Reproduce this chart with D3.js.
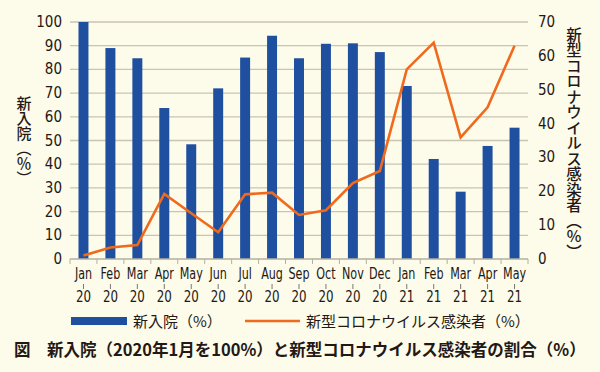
<!DOCTYPE html>
<html>
<head>
<meta charset="utf-8">
<script src="https://cdn.jsdelivr.net/npm/d3@7"></script>
<style>
  body { margin: 0; background: #fdfbea; }
  svg { display: block; }
  text { font-family: "Liberation Sans Narrow", "DejaVu Sans Condensed", "Noto Sans CJK JP", sans-serif; fill: #231815; }
  .jp { font-family: "Noto Sans CJK JP", sans-serif; }
</style>
</head>
<body>
<svg width="600" height="372"></svg>
<script>
var months = ["Jan", "Feb", "Mar", "Apr", "May", "Jun", "Jul", "Aug", "Sep", "Oct", "Nov", "Dec",
              "Jan", "Feb", "Mar", "Apr", "May"];
var years = ["20", "20", "20", "20", "20", "20", "20", "20", "20", "20", "20", "20",
             "21", "21", "21", "21", "21"];
var admissions = [100, 89, 84.7, 63.7, 48.4, 72, 85, 94.2, 84.7, 90.8, 91, 87.3, 73, 42.2, 28.4, 47.7, 55.4];
var infected = [1.0, 3.4, 4.1, 19.2, 13.5, 7.9, 19.1, 19.6, 13.0, 14.4, 22.4, 26.0, 56.0, 63.9, 35.9, 44.8, 63.0];
var leftTicks = d3.range(0, 101, 10);
var rightTicks = d3.range(0, 71, 10);

var svg = d3.select("svg");
var plotLeft = 70, plotRight = 528, plotTop = 22, plotBottom = 259;
var keys = months.map((m, i) => i);

var x = d3.scaleBand().domain(keys).range([plotLeft, plotRight]).paddingInner(0.63).paddingOuter(0.315);
var xb = d3.scaleBand().domain(keys).range([plotLeft, plotRight]);
var yL = d3.scaleLinear().domain([0, 100]).range([plotBottom, plotTop]);
var yR = d3.scaleLinear().domain([0, 70]).range([plotBottom, plotTop]);

// grid
svg.append("g")
  .selectAll("line")
  .data(leftTicks.slice(1)).enter()
  .append("line")
  .attr("x1", plotLeft).attr("x2", plotRight)
  .attr("y1", d => yL(d)).attr("y2", d => yL(d))
  .attr("stroke", "#c9c5b1").attr("stroke-width", 1.3);

// bars
svg.append("g")
  .selectAll("rect")
  .data(admissions).enter()
  .append("rect")
  .attr("x", (d, i) => x(i))
  .attr("width", x.bandwidth())
  .attr("y", d => yL(d))
  .attr("height", d => plotBottom - yL(d))
  .attr("fill", "#1f4f9f");

// baseline + tick marks
svg.append("line")
  .attr("x1", plotLeft).attr("x2", plotRight)
  .attr("y1", plotBottom).attr("y2", plotBottom)
  .attr("stroke", "#b4b0a0").attr("stroke-width", 1.3);

var boundaries = keys.map(i => xb(i)).concat([plotRight]);
svg.append("g")
  .selectAll("line")
  .data(boundaries).enter()
  .append("line")
  .attr("x1", d => d).attr("x2", d => d)
  .attr("y1", plotBottom).attr("y2", plotBottom + 5)
  .attr("stroke", "#b4b0a0").attr("stroke-width", 1);

// line
var line = d3.line()
  .x((d, i) => xb(i) + xb.bandwidth() / 2)
  .y(d => yR(d));
svg.append("path")
  .datum(infected)
  .attr("d", line)
  .attr("fill", "none")
  .attr("stroke", "#f06a1e")
  .attr("stroke-width", 2.6)
  .attr("stroke-linejoin", "miter");

// x labels (condensed)
var xl = svg.append("g").selectAll("g")
  .data(keys).enter()
  .append("g")
  .attr("transform", d => "translate(" + (xb(d) + xb.bandwidth() / 2) + ",0)");
xl.append("text").attr("y", 279).attr("text-anchor", "middle").attr("font-size", 15.5)
  .attr("transform", "scale(0.8,1)")
  .text(d => months[d]);
xl.append("line").attr("y1", 284).attr("y2", 289).attr("stroke", "#555").attr("stroke-width", 0.8);
xl.append("text").attr("y", 302).attr("text-anchor", "middle").attr("font-size", 15.5)
  .attr("transform", "scale(0.85,1)")
  .text(d => years[d]);

// left axis labels
svg.append("g")
  .selectAll("text")
  .data(leftTicks).enter()
  .append("text")
  .attr("x", 62).attr("y", d => yL(d) + 5)
  .attr("text-anchor", "end").attr("font-size", 15)
  .text(d => d);

// right axis labels
svg.append("g")
  .selectAll("text")
  .data(rightTicks).enter()
  .append("text")
  .attr("x", 538).attr("y", d => yR(d) + 5)
  .attr("text-anchor", "start").attr("font-size", 15)
  .text(d => d);

// axis titles (vertical)
svg.append("text").attr("class", "jp")
  .attr("x", 24).attr("y", 96)
  .attr("font-size", 15)
  .style("writing-mode", "vertical-rl")
  .style("font-weight", 500)
  .text("新入院（％）");

svg.append("text").attr("class", "jp")
  .attr("x", 574).attr("y", 27)
  .attr("font-size", 15.5)
  .style("writing-mode", "vertical-rl")
  .style("font-weight", 500)
  .text("新型コロナウイルス感染者（％）");

// legend
svg.append("rect").attr("x", 71).attr("y", 317).attr("width", 56).attr("height", 8).attr("fill", "#1f4f9f");
svg.append("text").attr("class", "jp").attr("x", 133).attr("y", 327).attr("font-size", 15).text("新入院（%）");
svg.append("line").attr("x1", 245).attr("x2", 300).attr("y1", 321).attr("y2", 321)
  .attr("stroke", "#f06a1e").attr("stroke-width", 2.6);
svg.append("text").attr("class", "jp").attr("x", 306).attr("y", 327).attr("font-size", 15).text("新型コロナウイルス感染者（%）");

// caption
svg.append("text").attr("class", "jp").attr("x", 14).attr("y", 356)
  .attr("font-size", 16.5).style("font-weight", 700)
  .text("図　新入院（2020年1月を100%）と新型コロナウイルス感染者の割合（%）");
</script>
</body>
</html>
